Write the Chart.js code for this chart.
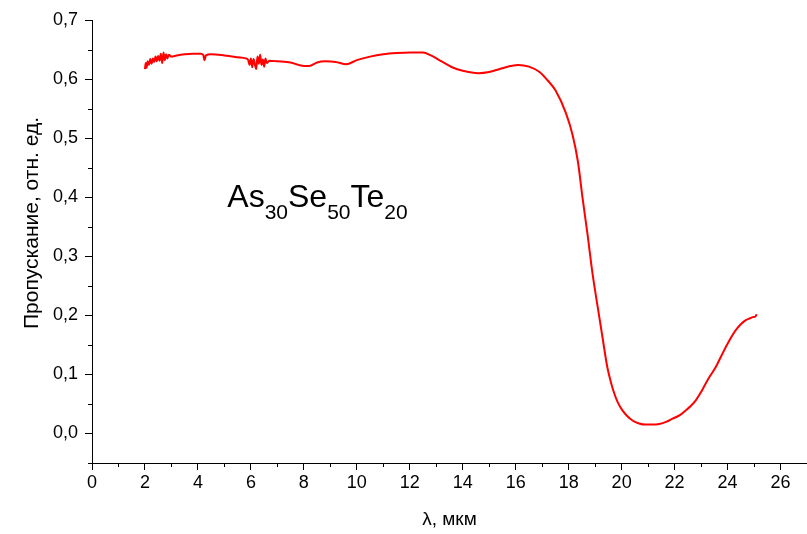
<!DOCTYPE html>
<html>
<head>
<meta charset="utf-8">
<script src="https://cdn.jsdelivr.net/npm/chart.js@4.4.0/dist/chart.umd.min.js"></script>
<style>
  html, body { margin: 0; padding: 0; background: #fff; }
  #wrap { width: 807px; height: 534px; }
</style>
</head>
<body>
<div id="wrap"><canvas id="mycanvas" width="807" height="534"></canvas></div>
<script>
// длина волны, мкм
const wavelength = [
  2.0, 2.03, 2.06, 2.1, 2.15, 2.2, 2.25, 2.3, 2.35, 2.4, 2.45, 2.5, 2.55, 2.6, 2.65, 2.7, 2.75, 2.8, 2.85, 2.9,
  3.0, 3.2, 3.5, 3.8, 4.1, 4.2, 4.25, 4.3, 4.5, 5.0, 5.5, 5.8, 5.9, 5.95, 6.0, 6.05, 6.1, 6.15, 6.2, 6.25,
  6.3, 6.35, 6.4, 6.45, 6.5, 6.55, 6.6, 6.7, 7.0, 7.5, 7.8, 8.0, 8.2, 8.5, 8.8, 9.2, 9.6, 10.0, 10.5, 11.0,
  11.5, 12.0, 12.5, 12.8, 13.2, 13.6, 14.0, 14.6, 15.0, 15.4, 15.8, 16.1, 16.5, 16.9, 17.2, 17.5, 17.9, 18.15, 18.35, 18.52,
  18.71, 18.9, 19.09, 19.28, 19.46, 19.6, 19.72, 19.85, 20.03, 20.2, 20.41, 20.66, 20.9, 21.15, 21.42, 21.7, 21.92, 22.2, 22.42, 22.6,
  22.8, 23.0, 23.18, 23.35, 23.55, 23.75, 23.93, 24.1, 24.31, 24.5, 24.69, 24.85, 24.95, 25.05, 25.1
];
// пропускание, отн. ед.
const transmission = [
  0.617, 0.627, 0.619, 0.630, 0.624, 0.634, 0.626, 0.635, 0.629, 0.638, 0.630, 0.639, 0.631, 0.643, 0.627, 0.645, 0.632, 0.642, 0.635, 0.641,
  0.638, 0.640, 0.642, 0.643, 0.643, 0.641, 0.632, 0.640, 0.642, 0.640, 0.637, 0.635, 0.632, 0.624, 0.635, 0.620, 0.634, 0.625, 0.617, 0.638,
  0.626, 0.641, 0.624, 0.633, 0.621, 0.635, 0.627, 0.631, 0.630, 0.628, 0.624, 0.622, 0.622, 0.628, 0.630, 0.629, 0.625, 0.632, 0.638, 0.642,
  0.644, 0.645, 0.645, 0.640, 0.630, 0.620, 0.614, 0.610, 0.612, 0.617, 0.622, 0.624, 0.621, 0.612, 0.598, 0.581, 0.542, 0.505, 0.460, 0.400,
  0.338, 0.271, 0.216, 0.162, 0.112, 0.086, 0.068, 0.053, 0.039, 0.030, 0.022, 0.017, 0.015, 0.015, 0.016, 0.020, 0.025, 0.031, 0.039, 0.046,
  0.056, 0.070, 0.085, 0.098, 0.112, 0.130, 0.146, 0.160, 0.175, 0.185, 0.192, 0.195, 0.197, 0.198, 0.202
];
// подписи осей
const xTitle = 'λ, мкм';
const yTitle = 'Пропускание, отн. ед.';

const FONT = '"Liberation Sans", Arial, sans-serif';

// малые деления + подпись оси Y + формула состава
const extras = {
  id: 'extras',
  afterDraw(chart) {
    const ctx = chart.ctx;
    const xs = chart.scales.x;
    const ys = chart.scales.y;
    ctx.save();
    ctx.strokeStyle = '#000';
    ctx.lineWidth = 1;
    ctx.beginPath();
    for (let v = 1; v <= 27; v += 2) {
      const px = Math.round(xs.getPixelForValue(v)) + 0.5;
      ctx.moveTo(px, xs.top);
      ctx.lineTo(px, xs.top + 4);
    }
    for (let i = -1; i <= 13; i += 2) {
      const py = Math.round(ys.getPixelForValue(i * 0.05)) + 0.5;
      ctx.moveTo(ys.right, py);
      ctx.lineTo(ys.right - 4, py);
    }
    ctx.stroke();

    // подпись оси Y
    ctx.fillStyle = '#000';
    ctx.font = '21px ' + FONT;
    ctx.textAlign = 'center';
    ctx.textBaseline = 'middle';
    ctx.translate(32, 223);
    ctx.rotate(-Math.PI / 2);
    ctx.fillText(yTitle, 0, 0);
    ctx.restore();

    // As30Se50Te20
    ctx.save();
    ctx.fillStyle = '#000';
    ctx.textBaseline = 'alphabetic';
    ctx.textAlign = 'left';
    let x = xs.getPixelForValue(5.11);
    const base = ys.getPixelForValue(0.383);
    const parts = [['As', '30'], ['Se', '50'], ['Te', '20']];
    parts.forEach(p => {
      ctx.font = '32px ' + FONT;
      ctx.fillText(p[0], x, base);
      x += ctx.measureText(p[0]).width;
      ctx.font = '21px ' + FONT;
      ctx.fillText(p[1], x, base + 12);
      x += ctx.measureText(p[1]).width;
    });
    ctx.restore();
  }
};

const ctx = document.querySelector('#mycanvas').getContext('2d');
const myChart = new Chart(ctx, {
  type: 'line',
  data: {
    datasets: [{
      data: wavelength.map((w, i) => ({ x: w, y: transmission[i] })),
      borderColor: '#ff0000',
      borderWidth: 2,
      pointRadius: 0,
      fill: false,
      cubicInterpolationMode: 'monotone'
    }]
  },
  options: {
    responsive: false,
    animation: false,
    layout: { padding: { top: 20, right: 0, left: 0, bottom: 0 } },
    plugins: {
      legend: { display: false },
      tooltip: { enabled: false }
    },
    scales: {
      x: {
        type: 'linear',
        min: 0,
        max: 27,
        afterFit(scale) { scale.height = 71; },
        border: { display: true, color: '#000', width: 1 },
        grid: { drawOnChartArea: false, drawTicks: true, tickLength: 7, tickColor: '#000' },
        ticks: {
          stepSize: 2,
          includeBounds: false,
          color: '#000',
          padding: 2,
          maxRotation: 0,
          font: { family: FONT, size: 18 }
        },
        title: {
          display: true,
          text: xTitle,
          color: '#000',
          font: { family: FONT, size: 19 },
          padding: { top: 0, bottom: 3 }
        }
      },
      y: {
        min: -0.05,
        max: 0.7,
        afterFit(scale) { scale.width = 92; },
        border: { display: true, color: '#000', width: 1 },
        grid: { drawOnChartArea: false, drawTicks: true, tickLength: 7, tickColor: '#000' },
        ticks: {
          stepSize: 0.1,
          includeBounds: false,
          color: '#000',
          padding: 7,
          font: { family: FONT, size: 18 },
          callback: v => v.toFixed(1).replace('.', ',')
        }
      }
    }
  },
  plugins: [extras]
});
</script>
</body>
</html>
